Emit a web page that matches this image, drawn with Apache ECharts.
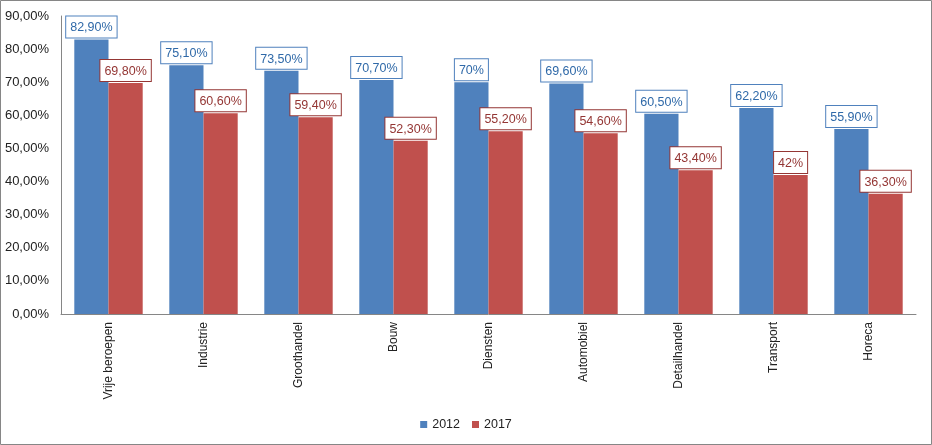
<!DOCTYPE html>
<html><head><meta charset="utf-8">
<script src="https://cdn.jsdelivr.net/npm/echarts@6/dist/echarts.min.js"></script>
<style>html,body{margin:0;padding:0;background:#fff}#c{width:932px;height:445px}</style>
</head><body><div id="c"></div>
<script>
const categories = ["Vrije beroepen","Industrie","Groothandel","Bouw","Diensten","Automobiel","Detailhandel","Transport","Horeca"];
const values2012 = [82.9, 75.1, 73.5, 70.7, 70, 69.6, 60.5, 62.2, 55.9];
const values2017 = [69.8, 60.6, 59.4, 52.3, 55.2, 54.6, 43.4, 42, 36.3];
const seriesNames = ["2012", "2017"];
const yTicks = [0, 10, 20, 30, 40, 50, 60, 70, 80, 90];

const FONT = "Liberation Sans";
function fmt(v){ return Number.isInteger(v) ? v + "%" : v.toFixed(2).replace(".", ",") + "%"; }
function lbl(color, border){
  return {show:true, position:'top', distance:2, formatter:p=>fmt(p.value), color:color,
    fontFamily:FONT, fontSize:12.5, backgroundColor:'#fff', borderColor:border, borderWidth:1,
    padding:[5,4,3,4]};
}
const chart = echarts.init(document.getElementById('c'));
chart.setOption({
  animation:false,
  textStyle:{fontFamily:FONT},
  graphic:[{type:'rect', shape:{x:0.5,y:0.5,width:931,height:444}, style:{fill:'none', stroke:'#868686', lineWidth:1}, z:-1}],
  grid:{left:61, right:16, top:16, bottom:131},
  legend:{bottom:9, left:'center', itemWidth:7, itemHeight:7, itemGap:12, icon:'rect',
    textStyle:{fontFamily:FONT, fontSize:12.5, color:'#222'}, data:seriesNames},
  xAxis:{type:'category', data:categories,
    axisLine:{lineStyle:{color:'#868686'}}, axisTick:{show:false},
    axisLabel:{rotate:90, fontFamily:FONT, fontSize:12, color:'#222', margin:8, interval:0}},
  yAxis:{type:'value', min:yTicks[0], max:yTicks[yTicks.length-1], interval:10,
    splitLine:{show:false}, axisLine:{show:true, lineStyle:{color:'#868686'}}, axisTick:{show:false},
    axisLabel:{fontFamily:FONT, fontSize:13, color:'#222', margin:12, formatter:v=>v.toFixed(2).replace(".", ",")+"%"}},
  series:[
    {name:seriesNames[0], type:'bar', data:values2012, barGap:'0%', barCategoryGap:'28%',
     itemStyle:{color:'#4f81bd'}, label:lbl('#2f69a8','#4f81bd')},
    {name:seriesNames[1], type:'bar', data:values2017, barGap:'0%', barCategoryGap:'28%',
     itemStyle:{color:'#c0504d'}, label:lbl('#943634','#943634')}
  ]
});
</script></body></html>
